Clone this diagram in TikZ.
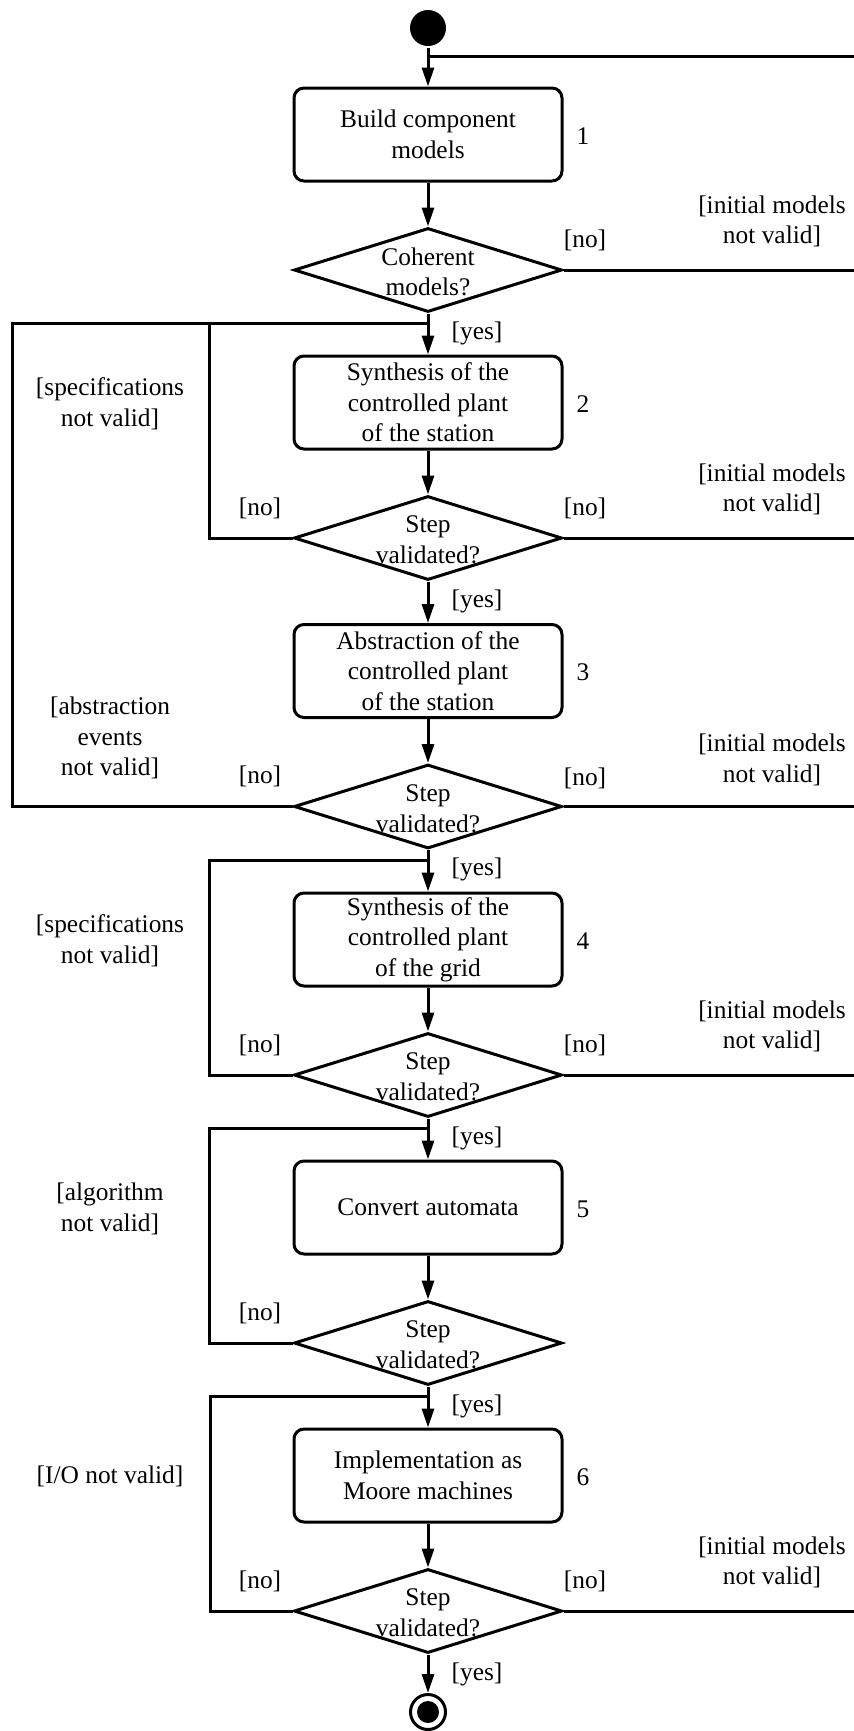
\documentclass[tikz,border=0pt]{standalone}
\usepackage{fontspec}
\setmainfont{Liberation Serif}
\newfontfamily\tms{Liberation Serif}
\usetikzlibrary{shapes.geometric,arrows.meta}
\begin{document}
\begin{tikzpicture}[x=0.5pt,y=-0.5pt, line width=1.5pt,
  txt/.style={align=center, font=\tms\fontsize{12.7}{15.3}\selectfont, inner sep=0pt},
  act/.style={draw, rounded corners=5pt, minimum width=134pt, minimum height=46.5pt, inner sep=0pt, txt},
  dec/.style={draw, diamond, minimum width=134pt, minimum height=42pt, inner sep=0pt},
  flow/.style={-{Triangle[length=9.5pt,width=6pt]}}]
\useasboundingbox (0,0) rectangle (854,1731);

% start / end
\node[circle, fill, inner sep=0pt, minimum size=18pt] (start) at (428,28) {};

% activities
\node[act] (b1) at (428,134.5) {Build component\\models};
\node[act] (b2) at (428,402.5) {Synthesis of the\\controlled plant\\of the station};
\node[act] (b3) at (428,671) {Abstraction of the\\controlled plant\\of the station};
\node[act] (b4) at (428,939.5) {Synthesis of the\\controlled plant\\of the grid};
\node[act] (b5) at (428,1207.5) {Convert automata};
\node[act] (b6) at (428,1475.5) {Implementation as\\Moore machines};

% decisions
\node[dec] (d1) at (428,270) {};
\node[dec] (d2) at (428,538) {};
\node[dec] (d3) at (428,806.5) {};
\node[dec] (d4) at (428,1075) {};
\node[dec] (d5) at (428,1343) {};
\node[dec] (d6) at (428,1611) {};
\node[txt] (t1) at (428,272) {Coherent\\models?};
\node[txt] (t2) at (428,540) {Step\\validated?};
\node[txt] (t3) at (428,808.5) {Step\\validated?};
\node[txt] (t4) at (428,1077) {Step\\validated?};
\node[txt] (t5) at (428,1345) {Step\\validated?};
\node[txt] (t6) at (428,1613) {Step\\validated?};

\node[circle, draw, inner sep=0pt, minimum size=17.5pt] (end) at (428,1712) {};
\node[circle, fill, inner sep=0pt, minimum size=11pt] (endin) at (end) {};

% step numbers
\node[txt] (n1) at (583,136) {1};
\node[txt] (n2) at (583,404) {2};
\node[txt] (n3) at (583,672) {3};
\node[txt] (n4) at (583,941) {4};
\node[txt] (n5) at (583,1209) {5};
\node[txt] (n6) at (583,1477) {6};

% coordinates
\coordinate (j0) at (428,56);
\coordinate (r0) at (854,56);
\coordinate (r1) at (854,270);
\coordinate (r2) at (854,538);
\coordinate (r3) at (854,806.5);
\coordinate (r4) at (854,1075);
\coordinate (r6) at (854,1611);
\coordinate (j1) at (428,323);
\coordinate (k1) at (209,323);
\coordinate (k1o) at (12,323);
\coordinate (j3) at (428,860);
\coordinate (k3) at (209,860);
\coordinate (j4) at (428,1128);
\coordinate (k4) at (209,1128);
\coordinate (j5) at (428,1396);
\coordinate (k5) at (210,1396);

% main flow
\draw[flow] (start) -- (b1);
\draw[flow] (b1) -- (d1);
\draw[flow] (d1) -- (b2);
\draw[flow] (b2) -- (d2);
\draw[flow] (d2) -- (b3);
\draw[flow] (b3) -- (d3);
\draw[flow] (d3) -- (b4);
\draw[flow] (b4) -- (d4);
\draw[flow] (d4) -- (b5);
\draw[flow] (b5) -- (d5);
\draw[flow] (d5) -- (b6);
\draw[flow] (b6) -- (d6);
\draw[flow] (d6) -- (end);

% right branches
\draw (j0) -- (r0);
\draw (d1.east) -- (r1);
\draw (d2.east) -- (r2);
\draw (d3.east) -- (r3);
\draw (d4.east) -- (r4);
\draw (d6.east) -- (r6);

% left loops
\draw (d2.west) -| (k1) -- (j1);
\draw (k1) -- (k1o) |- (d3.west);
\draw (d4.west) -| (k3) -- (j3);
\draw (d5.west) -| (k4) -- (j4);
\draw (d6.west) -| (k5) -- (j5);

% guards
\node[txt] (y1) at (477,333) {[yes]};
\node[txt] (y2) at (477,601) {[yes]};
\node[txt] (y3) at (477,869.5) {[yes]};
\node[txt] (y4) at (477,1138) {[yes]};
\node[txt] (y5) at (477,1406) {[yes]};
\node[txt] (y6) at (477,1674) {[yes]};

\node[txt] (nr1) at (585,240) {[no]};
\node[txt] (nr2) at (585,508) {[no]};
\node[txt] (nr3) at (585,778) {[no]};
\node[txt] (nr4) at (585,1045) {[no]};
\node[txt] (nr6) at (585,1581) {[no]};

\node[txt] (nl2) at (260,508) {[no]};
\node[txt] (nl3) at (260,776) {[no]};
\node[txt] (nl4) at (260,1045) {[no]};
\node[txt] (nl5) at (260,1313) {[no]};
\node[txt] (nl6) at (260,1581) {[no]};

\node[txt] (i1) at (772,221.5) {[initial models\\not valid]};
\node[txt] (i2) at (772,489.5) {[initial models\\not valid]};
\node[txt] (i3) at (772,760) {[initial models\\not valid]};
\node[txt] (i4) at (772,1026.5) {[initial models\\not valid]};
\node[txt] (i6) at (772,1562.5) {[initial models\\not valid]};

\node[txt] (s2) at (110,404) {[specifications\\not valid]};
\node[txt] (s3) at (110,738) {[abstraction\\events\\not valid]};
\node[txt] (s4) at (110,941) {[specifications\\not valid]};
\node[txt] (s5) at (110,1209) {[algorithm\\not valid]};
\node[txt] (s6) at (110,1476) {[I/O not valid]};
\end{tikzpicture}
\end{document}
